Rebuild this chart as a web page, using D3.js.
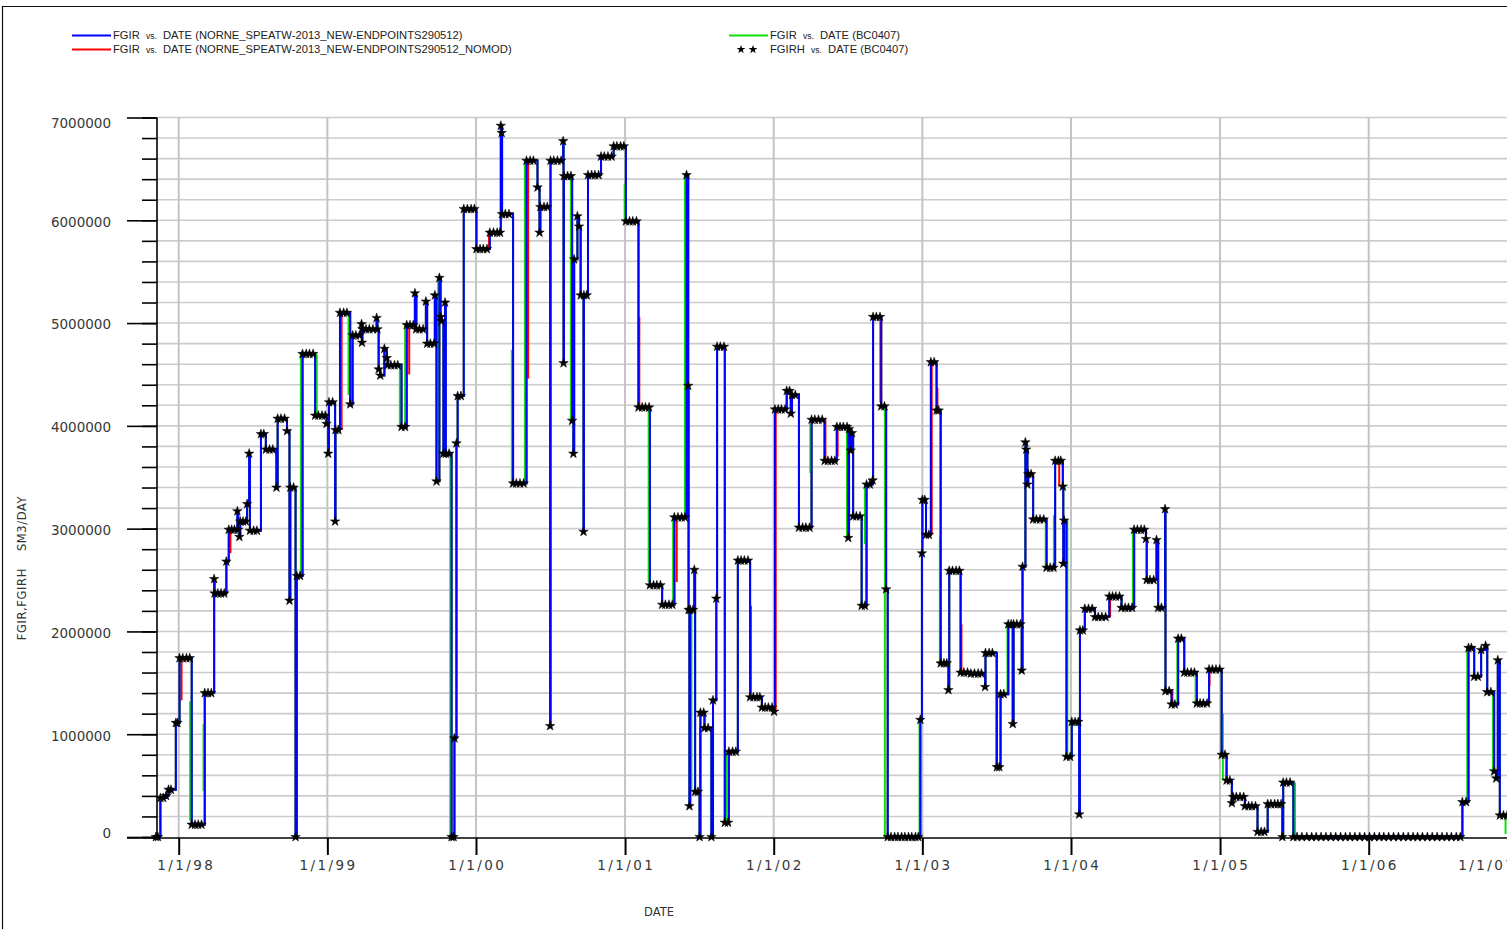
<!DOCTYPE html>
<html><head><meta charset="utf-8">
<script src="https://cdn.jsdelivr.net/npm/d3@7"></script>
<style>
html,body{margin:0;padding:0;background:#fff;}
svg{display:block;}
</style></head><body>
<svg id="chart" width="1507" height="929"></svg>
<script>
// ---------------- DATA ----------------
const startDate = "1997-11-06";   // simulation start (day 0)
// FGIRH history points: days since start
const histDays = [
0,5,11,18,25,31,37,49,53,58,
66,75,83,88,96,104,112,120,128,136,
143,144,152,160,168,173,179,186,193,200,
202,205,207,214,221,224,229,231,240,248,
258,265,270,279,287,296,299,307,316,322,
328,330,338,343,346,354,360,369,377,386,
391,399,408,416,419,423,425,434,440,441,
448,452,461,469,477,483,491,500,505,506,
507,516,524,533,542,544,547,551,561,567,
569,577,586,594,603,612,616,624,632,636,
639,647,656,663,666,674,683,685,689,696,
699,701,706,710,712,720,726,731,733,738,
741,749,756,765,774,782,787,796,804,813,
820,829,838,845,847,849,850,858,867,877,
885,894,903,910,919,927,937,942,944,953,
961,968,969,977,986,995,1000,1001,1002,1011,
1019,1022,1025,1027,1035,1039,1043,1050,1051,1058,
1061,1070,1078,1087,1093,1101,1110,1119,1124,1132,
1141,1149,1154,1163,1171,1180,1185,1194,1202,1211,
1213,1222,1230,1239,1243,1251,1260,1268,1273,1282,
1291,1299,1303,1307,1308,1310,1312,1319,1322,1324,
1331,1335,1337,1345,1347,1356,1364,1368,1376,1378,
1386,1395,1397,1405,1407,1416,1424,1429,1437,1445,
1454,1459,1467,1476,1483,1488,1496,1504,1513,1518,
1520,1528,1536,1545,1549,1556,1559,1562,1570,1579,
1588,1596,1605,1610,1618,1627,1636,1642,1650,1659,
1667,1672,1680,1688,1697,1700,1702,1706,1709,1712,
1720,1729,1733,1741,1745,1753,1760,1761,1769,1778,
1781,1789,1793,1797,1805,1814,1822,1831,1839,1848,
1856,1865,1872,1877,1881,1882,1888,1891,1898,1903,
1911,1917,1922,1927,1935,1942,1946,1948,1956,1965,
1973,1976,1984,1993,2001,2010,2019,2027,2036,2037,
2046,2054,2065,2071,2074,2082,2093,2100,2104,2106,
2114,2123,2126,2128,2135,2137,2140,2142,2149,2154,
2162,2171,2180,2187,2196,2204,2208,2216,2222,2227,
2228,2230,2236,2245,2249,2257,2265,2267,2269,2276,
2281,2290,2299,2306,2314,2323,2332,2341,2349,2357,
2366,2371,2380,2388,2397,2402,2410,2419,2427,2431,
2433,2441,2450,2457,2461,2469,2478,2479,2488,2494,
2502,2510,2518,2525,2533,2542,2550,2556,2564,2572,
2581,2586,2594,2603,2612,2617,2625,2629,2637,2642,
2645,2653,2662,2671,2674,2683,2691,2700,2705,2714,
2722,2730,2738,2747,2755,2763,2766,2768,2776,2785,
2793,2802,2814,2826,2838,2849,2861,2873,2885,2897,
2909,2921,2932,2944,2956,2968,2980,2992,3004,3015,
3027,3039,3051,3063,3075,3087,3098,3110,3122,3134,
3146,3158,3170,3181,3193,3203,3208,3217,3223,3230,
3237,3246,3254,3265,3269,3278,3286,3291,3295,3300,
3309,3318,3328];
// FGIRH values, SM3/DAY
const histRates = [
0,0,380000,380000,400000,460000,460000,1110000,1110000,1740000,
1740000,1740000,1740000,120000,120000,120000,120000,1400000,1400000,1400000,
2510000,2370000,2370000,2370000,2370000,2680000,2990000,2990000,2990000,3170000,
2990000,2920000,3070000,3070000,3070000,3240000,3730000,2980000,2980000,2980000,
3920000,3920000,3770000,3770000,3770000,3400000,4070000,4070000,4070000,3950000,
2300000,3400000,3400000,0,2540000,2540000,4700000,4700000,4700000,4700000,
4100000,4100000,4100000,4100000,4020000,3730000,4230000,4230000,3070000,3960000,
3960000,5100000,5100000,5100000,4210000,4880000,4880000,4880000,4990000,4810000,
4940000,4940000,4940000,4940000,5050000,4940000,4550000,4490000,4750000,4660000,
4590000,4590000,4590000,4590000,3990000,3990000,4980000,4980000,4980000,5290000,
4940000,4940000,4940000,5210000,4800000,4800000,4800000,5270000,3460000,5440000,
5060000,5020000,3730000,5200000,3730000,3730000,0,0,960000,3830000,
4290000,4290000,6110000,6110000,6110000,6110000,5720000,5720000,5720000,5720000,
5880000,5880000,5880000,5880000,6920000,6850000,6060000,6060000,6060000,3440000,
3440000,3440000,3440000,6580000,6580000,6580000,6320000,5880000,6130000,6130000,
6130000,1080000,6580000,6580000,6580000,6580000,6770000,4610000,6430000,6430000,
6430000,4050000,3730000,5620000,6040000,5940000,5270000,2970000,5270000,5270000,
6440000,6440000,6440000,6440000,6620000,6620000,6620000,6620000,6720000,6720000,
6720000,6720000,5990000,5990000,5990000,5990000,4180000,4180000,4180000,4180000,
2450000,2450000,2450000,2450000,2260000,2260000,2260000,2260000,3110000,3110000,
3110000,3110000,6440000,4390000,2210000,300000,2210000,2210000,2600000,440000,
440000,0,1210000,1210000,1060000,1060000,0,1330000,2320000,4770000,
4770000,4770000,140000,140000,830000,830000,830000,2690000,2690000,2690000,
2690000,1360000,1360000,1360000,1360000,1260000,1260000,1260000,1260000,1220000,
4160000,4160000,4160000,4160000,4340000,4340000,4120000,4300000,4300000,3010000,
3010000,3010000,3010000,4060000,4060000,4060000,4060000,3660000,3660000,3660000,
3660000,3990000,3990000,3990000,3990000,2910000,3970000,3760000,3930000,3120000,
3120000,3120000,2250000,2250000,3430000,3430000,3470000,5060000,5060000,5060000,
4190000,4190000,2410000,0,0,0,0,0,0,0,
0,0,0,1140000,2760000,3280000,3280000,2940000,2940000,4620000,
4620000,4150000,4150000,1690000,1690000,1690000,1430000,2590000,2590000,2590000,
2590000,1600000,1600000,1600000,1590000,1590000,1590000,1590000,1460000,1790000,
1790000,1790000,680000,680000,1390000,1390000,2070000,2070000,1100000,2070000,
2070000,2070000,1620000,2630000,3840000,3770000,3430000,3530000,3530000,3090000,
3090000,3090000,3090000,2620000,2620000,2620000,3660000,3660000,3660000,3410000,
2660000,3080000,780000,780000,1120000,1120000,1120000,220000,2010000,2010000,
2220000,2220000,2220000,2140000,2140000,2140000,2140000,2340000,2340000,2340000,
2340000,2230000,2230000,2230000,2230000,2990000,2990000,2990000,2990000,2900000,
2500000,2500000,2500000,2890000,2230000,2230000,3190000,1420000,1420000,1290000,
1290000,1930000,1930000,1600000,1600000,1600000,1600000,1300000,1300000,1300000,
1300000,1630000,1630000,1630000,1630000,800000,800000,550000,550000,330000,
390000,390000,390000,390000,300000,300000,300000,300000,50000,50000,
50000,320000,320000,320000,320000,320000,0,530000,530000,530000,
0,0,0,0,0,0,0,0,0,0,
0,0,0,0,0,0,0,0,0,0,
0,0,0,0,0,0,0,0,0,0,
0,0,0,0,0,0,340000,340000,1840000,1840000,
1560000,1560000,1820000,1860000,1410000,1410000,640000,570000,1720000,210000,
210000,210000,210000];

// Visible transitions of the BC0407 run (green) that differ from the blue run
const greenSegDays = [84,117,356,395,473,599,612,693,723,874,906,1019,1151,1210,1270,1299,1315,1402,1607,1697,1741,1790,1875,1925,2063,2091,2185,2205,2238,2399,2508,2553,2620,2797,3220,3283,3314];
const greenSegFrom = [1320000,450000,2540000,4700000,5100000,4590000,3990000,5440000,3730000,4740000,3440000,6430000,6350000,4180000,2300000,3120000,2210000,160000,3540000,3950000,2850000,4190000,0,2920000,1790000,1390000,3090000,2620000,3080000,2230000,1290000,1600000,1200000,530000,340000,1410000,210000];
const greenSegTo   = [160000,1100000,4700000,4100000,4300000,3990000,4980000,3730000,0,3450000,6580000,4050000,6000000,2480000,3080000,6440000,460000,830000,4020000,2920000,3430000,0,1140000,1690000,690000,2070000,2620000,3130000,780000,2990000,1930000,1300000,550000,0,1840000,640000,30000];
// Visible transitions of the NOMOD run (red) that differ from the blue run
const redSegDays = [63,183,456,622,640,818,914,1187,1279,1336,1461,1522,1644,1674,1779,1905,1919,1978,2218,2343,2496,2587];
const redSegFrom = [1330000,2990000,3960000,4500000,5270000,5720000,6580000,5060000,3080000,1060000,2250000,4150000,4060000,3700000,5040000,2940000,4370000,2070000,3660000,2140000,1420000,1470000];
const redSegTo   = [1740000,2760000,5100000,4950000,5000000,5880000,4460000,4180000,2480000,50000,1380000,1240000,3660000,3950000,4230000,4600000,4140000,1610000,3410000,2330000,1290000,1610000];

const yearTicks = ["1998-01-01","1999-01-01","2000-01-01","2001-01-01","2002-01-01","2003-01-01","2004-01-01","2005-01-01","2006-01-01","2007-01-01"];
const yearTickLabels = ["1/1/98","1/1/99","1/1/00","1/1/01","1/1/02","1/1/03","1/1/04","1/1/05","1/1/06","1/1/07"];
const yTickValues = [0,1000000,2000000,3000000,4000000,5000000,6000000,7000000];
const yTickLabels = ["0","1000000","2000000","3000000","4000000","5000000","6000000","7000000"];
const legendLabels = [
  ["FGIR","DATE (NORNE_SPEATW-2013_NEW-ENDPOINTS290512)"],
  ["FGIR","DATE (NORNE_SPEATW-2013_NEW-ENDPOINTS290512_NOMOD)"],
  ["FGIR","DATE (BC0407)"],
  ["FGIRH","DATE (BC0407)"]
];
const xTitle = "DATE";
const yTitle = "FGIR,FGIRH    SM3/DAY";

// ---------------- DRAW ----------------
const svg = d3.select("#chart");
const BLUE = "#0000ff", RED = "#ff0000", GREEN = "#10e010";
const tickFont = "'DejaVu Sans', sans-serif";
const parse = s => new Date(s + "T00:00:00Z");
const t0 = parse(startDate);
const toDate = d => d3.utcDay.offset(t0, d);

const x = d3.scaleUtc().domain([parse("1998-01-01"), parse("2007-01-01")]).range([178.7, 1517.35]);
const y = d3.scaleLinear().domain([0, 7000000]).range([837, 117.5]);

// frame
svg.append("path").attr("d", "M2.5,929V6.5H1507").attr("fill", "none")
  .attr("stroke", "#111").attr("stroke-width", 1.2);

// grid
const yMinor = d3.range(0, 7000001, 200000);
svg.append("g").selectAll("line").data(yMinor.filter(v => v > 0)).join("line")
  .attr("x1", 157).attr("x2", 1507).attr("y1", d => y(d)).attr("y2", d => y(d))
  .attr("stroke", "#cccccc").attr("stroke-width", 1.6);
const yearDates = yearTicks.map(parse);
svg.append("g").selectAll("line").data(yearDates).join("line")
  .attr("x1", d => x(d)).attr("x2", d => x(d)).attr("y1", y(7000000)).attr("y2", 838)
  .attr("stroke", "#c4c4c4").attr("stroke-width", 2);

// y axis
const gy = svg.append("g").attr("transform", "translate(157,0)");
gy.call(d3.axisLeft(y).tickValues(yMinor).tickSize(15).tickFormat(""));
gy.call(g => g.select(".domain").remove());
const gy2 = svg.append("g").attr("transform", "translate(157,0)");
gy2.call(d3.axisLeft(y).tickValues(yTickValues).tickSize(30).tickFormat(""));
gy2.call(g => g.select(".domain").remove());
svg.selectAll(".tick line").attr("stroke", "#000").attr("stroke-width", 1.6);
// labels are kept inside the axis frame (clamped at its ends)
svg.append("g").selectAll("text").data(yTickValues).join("text")
  .attr("x", 111).attr("y", d => Math.max(123.5, Math.min(833.5, y(d) + 1.5))).attr("dy", "0.36em")
  .attr("text-anchor", "end").attr("font-family", tickFont).attr("font-size", 13.5)
  .attr("fill", "#383838").text((d, i) => yTickLabels[i]);
svg.append("line").attr("x1", 157).attr("x2", 157).attr("y1", y(7000000)).attr("y2", 838)
  .attr("stroke", "#000").attr("stroke-width", 1.6);

// x axis
const gx = svg.append("g").attr("transform", "translate(0,838)");
gx.call(d3.axisBottom(x).tickValues(yearDates).tickSize(17).tickFormat(""));
gx.call(g => g.select(".domain").remove());
gx.selectAll(".tick line").attr("stroke", "#000").attr("stroke-width", 2);
const xLabHalf = 28;
svg.append("g").selectAll("text").data(yearDates).join("text")
  .attr("x", d => Math.max(157 + xLabHalf, Math.min(1514 - xLabHalf, x(d))) + 1.2)
  .attr("y", 870).attr("text-anchor", "middle")
  .attr("font-family", tickFont).attr("font-size", 13.5).attr("letter-spacing", 2.4)
  .attr("fill", "#383838").text((d, i) => yearTickLabels[i]);
svg.append("line").attr("x1", 127).attr("x2", 1507).attr("y1", 838).attr("y2", 838)
  .attr("stroke", "#000").attr("stroke-width", 1.6);

// axis titles
svg.append("text").attr("x", 659).attr("y", 916).attr("text-anchor", "middle")
  .attr("font-family", tickFont).attr("font-size", 11.5).attr("fill", "#333").text(xTitle);
svg.append("text").attr("transform", "translate(26,568) rotate(-90)").attr("text-anchor", "middle")
  .attr("font-family", tickFont).attr("font-size", 11.5).attr("letter-spacing", 0.6)
  .attr("fill", "#333").style("white-space", "pre").text(yTitle);

// data
const hist = histDays.map((d, i) => ({ date: toDate(d), v: histRates[i] }));
const line = d3.line().x(d => x(d.date)).y(d => y(d.v)).curve(d3.curveStepAfter);
const plot = svg.append("g");
plot.append("path").datum(hist).attr("d", line).attr("fill", "none").attr("stroke", RED).attr("stroke-width", 2);
plot.append("path").datum(hist).attr("d", line).attr("fill", "none").attr("stroke", GREEN).attr("stroke-width", 2);
plot.append("g").selectAll("line").data(redSegDays).join("line")
  .attr("x1", d => x(toDate(d))).attr("x2", d => x(toDate(d)))
  .attr("y1", (d, i) => y(redSegFrom[i])).attr("y2", (d, i) => y(redSegTo[i]))
  .attr("stroke", RED).attr("stroke-width", 2);
plot.append("g").selectAll("line").data(greenSegDays).join("line")
  .attr("x1", d => x(toDate(d))).attr("x2", d => x(toDate(d)))
  .attr("y1", (d, i) => y(greenSegFrom[i])).attr("y2", (d, i) => y(greenSegTo[i]))
  .attr("stroke", GREEN).attr("stroke-width", 2);
plot.append("path").datum(hist).attr("d", line).attr("fill", "none").attr("stroke", BLUE).attr("stroke-width", 2);

const star = d3.symbol(d3.symbolStar, 28);
plot.append("g").selectAll("path").data(hist).join("path")
  .attr("d", star).attr("transform", d => `translate(${x(d.date)},${y(d.v)})`)
  .attr("fill", "#000").attr("stroke", "#000").attr("stroke-width", 0.5);

// legend
const lg = svg.append("g").attr("font-family", "'Liberation Sans', Arial, sans-serif").attr("font-size", 11.2).attr("fill", "#222");
const legendItems = [
  { x: 72, y: 35.5, color: BLUE, lab: legendLabels[0] },
  { x: 72, y: 49.5, color: RED, lab: legendLabels[1] },
  { x: 729, y: 35.5, color: GREEN, lab: legendLabels[2] },
  { x: 729, y: 49.5, color: null, lab: legendLabels[3] }
];
legendItems.forEach(it => {
  if (it.color) {
    lg.append("line").attr("x1", it.x).attr("x2", it.x + 39).attr("y1", it.y).attr("y2", it.y)
      .attr("stroke", it.color).attr("stroke-width", 2);
  } else {
    [12, 24].forEach(dx => lg.append("path").attr("d", d3.symbol(d3.symbolStar, 24))
      .attr("transform", `translate(${it.x + dx},${it.y})`).attr("fill", "#000"));
  }
  const t = lg.append("text").attr("x", it.x + 41).attr("y", it.y + 3.8).style("white-space", "pre");
  t.append("tspan").text(it.lab[0] + "  ");
  t.append("tspan").attr("font-size", 8.5).text("vs.");
  t.append("tspan").text("  " + it.lab[1]);
});
</script>
</body></html>
